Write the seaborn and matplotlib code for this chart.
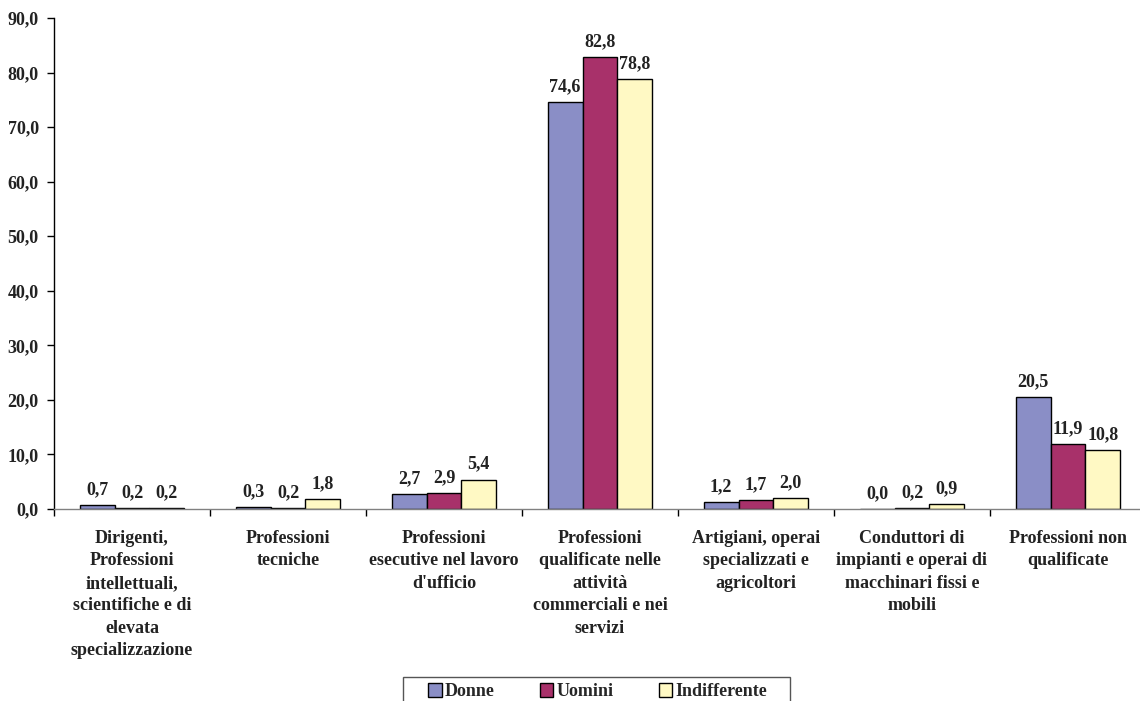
import matplotlib
matplotlib.use("Agg")
import matplotlib.pyplot as plt
import seaborn as sns
import pandas as pd
import numpy as np
from matplotlib.ticker import FuncFormatter, FixedLocator

categories = [
    "Dirigenti,\nProfessioni\nintellettuali,\nscientifiche e di\nelevata\nspecializzazione",
    "Professioni\ntecniche",
    "Professioni\nesecutive nel lavoro\nd'ufficio",
    "Professioni\nqualificate nelle\nattività\ncommerciali e nei\nservizi",
    "Artigiani, operai\nspecializzati e\nagricoltori",
    "Conduttori di\nimpianti e operai di\nmacchinari fissi e\nmobili",
    "Professioni non\nqualificate",
]
series_names = ["Donne", "Uomini", "Indifferente"]
donne = [0.7, 0.3, 2.7, 74.6, 1.2, 0.0, 20.5]
uomini = [0.2, 0.2, 2.9, 82.8, 1.7, 0.2, 11.9]
indifferente = [0.2, 1.8, 5.4, 78.8, 2.0, 0.9, 10.8]
y_ticks = [0, 10, 20, 30, 40, 50, 60, 70, 80, 90]

colors = ["#8a8ec6", "#a8316a", "#fff9c4"]

rows = []
for name, vals in zip(series_names, [donne, uomini, indifferente]):
    for cat, v in zip(categories, vals):
        rows.append({"Categoria": cat, "Serie": name, "Valore": v})
df = pd.DataFrame(rows)

sns.set_style("white")
plt.rcParams["font.family"] = ["Liberation Serif", "DejaVu Serif"]
plt.rcParams["font.weight"] = "bold"

W, H = 1140, 701
fig = plt.figure(figsize=(W / 100, H / 100), dpi=100)
ax = fig.add_axes([54 / W, 1 - 509 / H, (1146 - 54) / W, (509 - 18) / H])

sns.barplot(data=df, x="Categoria", y="Valore", hue="Serie", order=categories,
            hue_order=series_names, palette=colors, saturation=1, width=0.67,
            gap=0, edgecolor="black", linewidth=1.0, ax=ax, legend=False)

fmt = lambda v: f"{v:.1f}".replace(".", ",")
for cont in ax.containers:
    ax.bar_label(cont, labels=[fmt(b.get_height()) for b in cont], padding=5,
                 fontsize=13, fontweight="bold", color="#222222")

ax.set_ylim(0, 90)
ax.set_xlim(-0.5, 6.5)
ax.yaxis.set_major_locator(FixedLocator(y_ticks))
ax.yaxis.set_major_formatter(FuncFormatter(lambda v, p: fmt(v)))
ax.tick_params(axis="y", which="major", direction="out", length=5, width=1,
               color="black", labelsize=13, pad=6, left=True)
ax.set_xticks(range(len(categories)))
ax.set_xticklabels(categories, fontsize=13, fontweight="bold", linespacing=1.42)
ax.tick_params(axis="x", which="major", length=0, pad=15)
ax.set_xticks(np.arange(-0.5, 7.0, 1.0), minor=True)
ax.tick_params(axis="x", which="minor", direction="out", length=5, width=1,
               color="black", bottom=True)
for lab in ax.get_yticklabels():
    lab.set_fontweight("bold")
    lab.set_color("#222222")
for lab in ax.get_xticklabels():
    lab.set_color("#222222")

ax.set_xlabel("")
ax.set_ylabel("")
for s in ["top", "right"]:
    ax.spines[s].set_visible(False)
ax.spines["left"].set_color("black")
ax.spines["left"].set_linewidth(1)
ax.spines["bottom"].set_color("#808080")
ax.spines["bottom"].set_linewidth(1)

# Legend entries (frameless) inside a wider box that runs off the bottom edge
handles = [plt.Rectangle((0, 0), 1, 1, facecolor=c, edgecolor="black", linewidth=1)
           for c in colors]
leg = fig.legend(handles, series_names, loc="upper center",
                 bbox_to_anchor=(597.5 / W, 1 - 677 / H), borderaxespad=0, ncol=3,
                 frameon=False, handlelength=0.75, handleheight=0.75,
                 handletextpad=0.15, columnspacing=2.52, borderpad=0.35,
                 prop={"family": "Liberation Serif", "weight": "bold", "size": 13})
box = plt.Rectangle((403 / W, -10 / H), (790 - 403) / W, (701 - 677 + 10) / H,
                    transform=fig.transFigure, facecolor="none",
                    edgecolor="#555555", linewidth=1, clip_on=False)
fig.patches.append(box)

fig.savefig("out.png", dpi=100)
